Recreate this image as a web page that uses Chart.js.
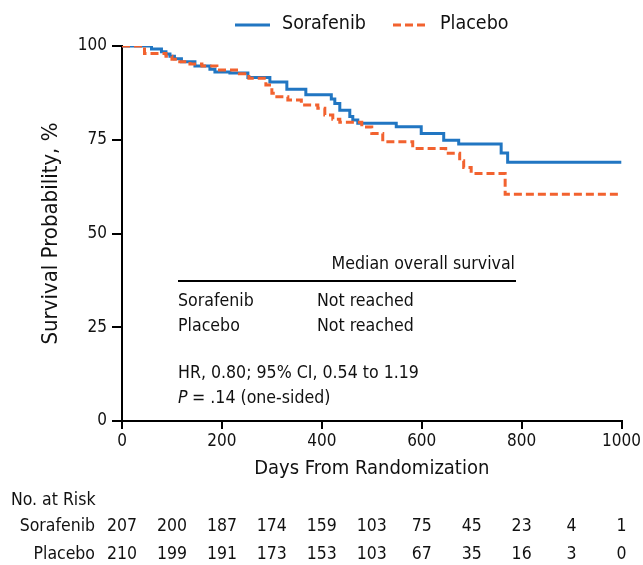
<!DOCTYPE html>
<html>
<head>
<meta charset="utf-8">
<script src="https://cdn.jsdelivr.net/npm/chart.js@4"></script>
<style>
  html, body { margin: 0; padding: 0; background: #fff; }
  #wrap { width: 643px; height: 565px; }
</style>
</head>
<body>
<div id="wrap"><canvas id="kmChart" width="643" height="565"></canvas></div>
<script>
// Kaplan-Meier steps (day, survival %)
const sorafenibDays = [0, 59, 79, 88, 96, 105, 119, 146, 176, 186, 216, 252, 296, 330, 368, 419, 426, 436, 456, 462, 472, 549, 599, 644, 674, 759, 772, 1000];
const sorafenibSurv = [100, 99.2, 98.5, 97.9, 97.3, 96.6, 95.8, 94.7, 93.8, 93.1, 92.8, 91.6, 90.4, 88.5, 87.0, 85.9, 84.7, 82.9, 81.2, 80.3, 79.4, 78.5, 76.7, 74.9, 73.9, 71.5, 69.0, 69.0];

const placeboDays = [0, 45, 88, 100, 112, 136, 160, 190, 235, 254, 288, 300, 310, 332, 359, 392, 406, 422, 436, 480, 500, 522, 582, 648, 676, 684, 699, 767, 995];
const placeboSurv = [100, 98.0, 97.3, 96.5, 95.8, 95.2, 94.7, 93.6, 92.6, 91.4, 89.6, 87.4, 86.5, 85.6, 84.3, 83.4, 81.6, 80.5, 79.7, 78.4, 76.7, 74.5, 72.7, 71.4, 69.4, 67.6, 66.0, 60.5, 60.5];

// number at risk table
const riskDays = [0, 100, 200, 300, 400, 500, 600, 700, 800, 900, 1000];
const sorafenibRisk = [207, 200, 187, 174, 159, 103, 75, 45, 23, 4, 1];
const placeboRisk = [210, 199, 191, 173, 153, 103, 67, 35, 16, 3, 0];

const FONT = "'Liberation Sans Narrow', 'DejaVu Sans Condensed', sans-serif";
const BLUE = '#2176c2';
const ORANGE = '#f2622f';

function toPoints(days, surv) {
  return days.map((d, i) => ({ x: d, y: surv[i] }));
}

const extras = {
  id: 'extras',
  afterDraw(chart) {
    const ctx = chart.ctx;
    const xs = chart.scales.x;
    const a = chart.chartArea;
    ctx.save();
    ctx.fillStyle = '#111';
    ctx.textBaseline = 'middle';

    // legend (line samples take style from the datasets)
    ctx.font = '19.5px ' + FONT;
    ctx.textAlign = 'left';
    const legendX = [235, 393];
    chart.data.datasets.forEach((ds, i) => {
      const x0 = legendX[i];
      ctx.strokeStyle = ds.borderColor;
      ctx.lineWidth = ds.borderWidth;
      ctx.setLineDash(ds.borderDash || []);
      ctx.beginPath();
      ctx.moveTo(x0, 25);
      ctx.lineTo(x0 + 35, 25);
      ctx.stroke();
      ctx.fillText(ds.label, x0 + 47, 24);
    });
    ctx.setLineDash([]);

    // annotation block
    ctx.strokeStyle = '#000';
    ctx.lineWidth = 2;
    ctx.beginPath();
    ctx.moveTo(a.left + 56, a.top + 235);
    ctx.lineTo(a.left + 394, a.top + 235);
    ctx.stroke();

    ctx.font = '17.6px ' + FONT;
    ctx.textAlign = 'right';
    ctx.fillText('Median overall survival', a.left + 393, a.top + 218);
    ctx.textAlign = 'left';
    ctx.fillText('Sorafenib', a.left + 56, a.top + 255);
    ctx.fillText('Not reached', a.left + 195, a.top + 255);
    ctx.fillText('Placebo', a.left + 56, a.top + 280);
    ctx.fillText('Not reached', a.left + 195, a.top + 280);
    ctx.fillText('HR, 0.80; 95% CI, 0.54 to 1.19', a.left + 56, a.top + 327);
    ctx.font = 'italic 17.6px ' + FONT;
    ctx.fillText('P', a.left + 56, a.top + 352);
    ctx.font = '17.6px ' + FONT;
    ctx.fillText('= .14 (one-sided)', a.left + 70, a.top + 352);

    // number at risk
    ctx.font = '17.5px ' + FONT;
    ctx.textAlign = 'left';
    ctx.fillText('No. at Risk', 11, 500);
    ctx.textAlign = 'right';
    ctx.fillText('Sorafenib', 95, 526);
    ctx.fillText('Placebo', 95, 554);
    ctx.textAlign = 'center';
    riskDays.forEach((d, i) => {
      const px = xs.getPixelForValue(d);
      ctx.fillText(String(sorafenibRisk[i]), px, 526);
      ctx.fillText(String(placeboRisk[i]), px, 554);
    });
    ctx.restore();
  }
};

const kmChart = new Chart(document.getElementById('kmChart'), {
  type: 'line',
  data: {
    datasets: [{
      label: 'Sorafenib',
      data: toPoints(sorafenibDays, sorafenibSurv),
      borderColor: BLUE,
      backgroundColor: BLUE,
      borderWidth: 3,
      stepped: 'before',
      pointRadius: 0,
      order: 1
    }, {
      label: 'Placebo',
      data: toPoints(placeboDays, placeboSurv),
      borderColor: ORANGE,
      backgroundColor: ORANGE,
      borderWidth: 3,
      borderDash: [8, 4],
      stepped: 'before',
      pointRadius: 0,
      order: 0
    }]
  },
  plugins: [extras],
  options: {
    responsive: false,
    animation: false,
    layout: { padding: { left: 38, right: 17, top: 46, bottom: 84 } },
    plugins: {
      tooltip: { enabled: false },
      legend: { display: false }
    },
    scales: {
      x: {
        type: 'linear',
        min: 0,
        max: 1000,
        border: { display: true, color: '#000', width: 2 },
        grid: { display: true, drawOnChartArea: false, drawTicks: true, tickLength: 8, color: '#000', lineWidth: 2 },
        ticks: { stepSize: 200, color: '#111', padding: 2, maxRotation: 0, font: { family: FONT, size: 17 },
          callback: (v) => String(v) },
        title: { display: true, text: 'Days From Randomization', color: '#111', font: { family: FONT, size: 20 }, padding: 0 },
        afterFit(scale) { scale.height = 60; }
      },
      y: {
        min: 0,
        max: 100,
        border: { display: true, color: '#000', width: 2 },
        grid: { display: true, drawOnChartArea: false, drawTicks: true, tickLength: 10, color: '#000', lineWidth: 2 },
        ticks: { stepSize: 25, color: '#111', padding: 5, font: { family: FONT, size: 17 } },
        title: { display: true, text: 'Survival Probability, %', color: '#111', font: { family: FONT, size: 22 }, padding: 0 },
        afterFit(scale) { scale.width = 84; }
      }
    }
  }
});
</script>
</body>
</html>
